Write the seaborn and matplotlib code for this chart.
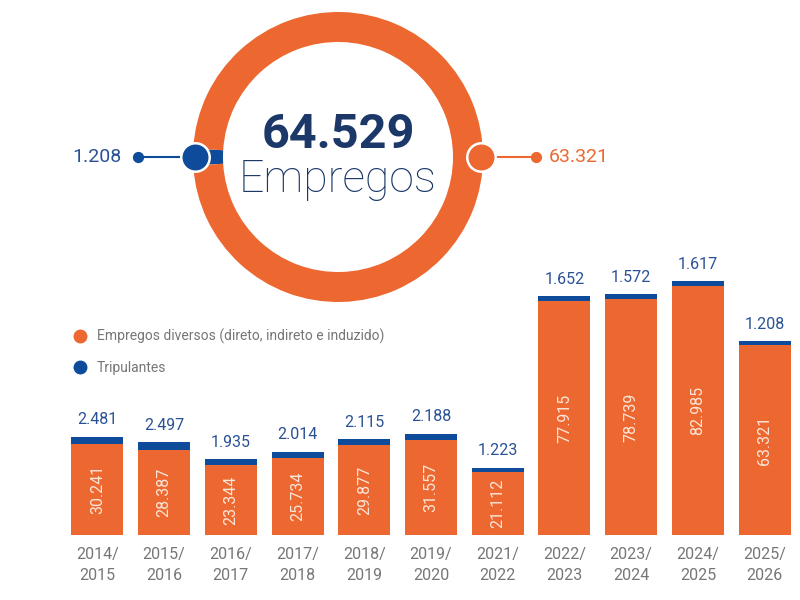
import matplotlib
matplotlib.use("Agg")
import matplotlib.pyplot as plt
from matplotlib.lines import Line2D
import seaborn as sns
import pandas as pd
import numpy as np

# ---- data ----
periods = ["2014/\n2015", "2015/\n2016", "2016/\n2017", "2017/\n2018", "2018/\n2019",
           "2019/\n2020", "2021/\n2022", "2022/\n2023", "2023/\n2024", "2024/\n2025",
           "2025/\n2026"]
diversos = [30241, 28387, 23344, 25734, 29877, 31557, 21112, 77915, 78739, 82985, 63321]
tripulantes = [2481, 2497, 1935, 2014, 2115, 2188, 1223, 1652, 1572, 1617, 1208]
donut_labels = ["Tripulantes", "Empregos diversos"]
donut_values = [1208, 63321]
total_label = "64.529"
total_word = "Empregos"
legend_labels = ["Empregos diversos (direto, indireto e induzido)", "Tripulantes"]

ORANGE = "#ec6830"
BLUE = "#0e4b9b"
NAVY = "#1b3868"
LBLUE = "#2a5195"
GREY = "#767676"


def fmt(v):
    return f"{v:,}".replace(",", ".")


sns.set_theme(style="white")
plt.rcParams["font.family"] = ["Roboto", "DejaVu Sans"]

W, H = 800, 600
fig = plt.figure(figsize=(8, 6), dpi=100)

# ---- bar chart ----
scale = 0.003  # px per unit
ymax = 93000
base = 535
ax = fig.add_axes([64 / W, 1 - base / H, (798 - 64) / W, ymax * scale / H])
ax.set_facecolor("none")
df = pd.DataFrame({"periodo": periods, "diversos": diversos, "tripulantes": tripulantes})
df["total"] = df["diversos"] + df["tripulantes"]
sns.barplot(data=df, x="periodo", y="total", color=BLUE, saturation=1, width=0.78,
            ax=ax, edgecolor="none")
sns.barplot(data=df, x="periodo", y="diversos", color=ORANGE, saturation=1, width=0.78,
            ax=ax, edgecolor="none")
ax.set_xlim(-0.5, len(periods) - 0.5)
ax.set_ylim(0, ymax)
ax.set_xlabel("")
ax.set_ylabel("")
ax.set_yticks([])
sns.despine(ax=ax, left=True, bottom=True)
ax.tick_params(axis="x", length=0, pad=8.5, labelsize=11.5, labelcolor=GREY)
for lab in ax.get_xticklabels():
    lab.set_linespacing(1.5)

for i, (d, t) in enumerate(zip(diversos, tripulantes)):
    ax.text(i, d / 2, fmt(d), rotation=90, ha="center", va="center",
            color="#fbe6d9", fontsize=11.5)
    ax.annotate(fmt(t), (i, d + t), xytext=(0, 9), textcoords="offset points",
                ha="center", va="baseline", color=LBLUE, fontsize=11.5)

# ---- donut ----
cx, cy, R = 338, 157, 145
dax = fig.add_axes([(cx - R) / W, 1 - (cy + R) / H, 2 * R / W, 2 * R / H])
dax.set_facecolor("none")
blue_angle = 360 * donut_values[0] / sum(donut_values)
dax.pie(donut_values, colors=[BLUE, ORANGE], startangle=180 - blue_angle / 2,
        radius=1, wedgeprops=dict(width=30 / R, edgecolor="none"))
dax.set_xlim(-1, 1)
dax.set_ylim(-1, 1)
dax.set_aspect("equal")
dax.axis("off")

dax.plot([-1.379, -0.985], [0, 0], color=BLUE, lw=1.5, clip_on=False, zorder=3)
dax.plot([0.985, 1.366], [0, 0], color=ORANGE, lw=1.5, clip_on=False, zorder=3)
dax.scatter([-1.379], [0], s=50, color=BLUE, clip_on=False, zorder=4)
dax.scatter([1.366], [0], s=50, color=ORANGE, clip_on=False, zorder=4)
dax.scatter([-0.985], [0], s=420, color=BLUE, edgecolor="white", linewidth=1.8,
            clip_on=False, zorder=5)
dax.scatter([0.985], [0], s=420, color=ORANGE, edgecolor="white", linewidth=1.8,
            clip_on=False, zorder=5)
dax.text(-1.49, 0, fmt(donut_values[0]), color=LBLUE, fontsize=14, ha="right",
         va="center", clip_on=False)
dax.text(1.45, 0, fmt(donut_values[1]), color=ORANGE, fontsize=14, ha="left",
         va="center", clip_on=False)
dax.text(0, 0.152, total_label, color=NAVY, fontsize=35, fontweight="bold",
         ha="center", va="center")
dax.text(0, -0.241, total_word, color=NAVY, fontsize=32, fontweight="light",
         ha="center", va="baseline")

handles = [Line2D([], [], marker="o", ls="none", color=c, markersize=9)
           for c in (ORANGE, BLUE)]
fig.legend(handles, legend_labels, loc="center left",
           bbox_to_anchor=(73 / W, 1 - 352 / H), frameon=False, fontsize=10,
           handlelength=1, handletextpad=0.7, labelspacing=1.25, borderpad=0,
           borderaxespad=0, labelcolor=GREY)

fig.savefig("out.png", dpi=100, facecolor="white")
